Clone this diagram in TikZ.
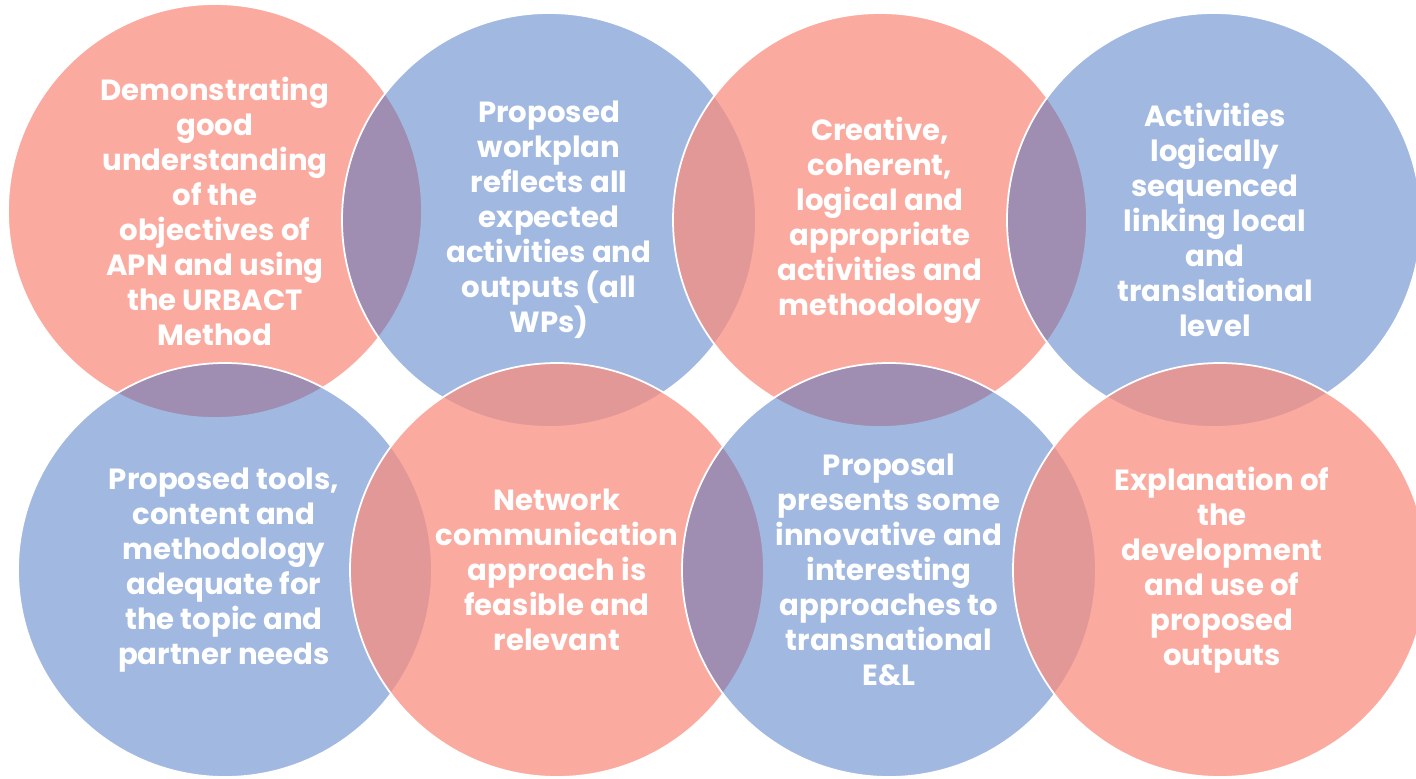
\documentclass[tikz,border=0pt]{standalone}
\usepackage{fontspec}
\setmainfont{Poppins}
\usepackage{tikz}
\definecolor{vennblue}{RGB}{68,114,196}
\definecolor{vennsalmon}{RGB}{250,142,128}
\tikzset{
  bluedisc/.style={fill=vennblue,fill opacity=0.5,draw=white,line width=0.5pt},
  salmondisc/.style={fill=vennsalmon,fill opacity=0.75,draw=white,line width=0.5pt},
  disctext/.style={text=white,align=center,inner sep=0pt,font=\bfseries\fontsize{8.3}{9.96}\selectfont}
}

\begin{document}
\begin{tikzpicture}
\clip (0,0) rectangle (14.16,7.78);
% top row
\filldraw[salmondisc] (2.15,5.67) circle (2.07);
\filldraw[bluedisc] (5.49,5.58) circle (2.07);
\filldraw[salmondisc] (8.80,5.58) circle (2.07);
\filldraw[bluedisc] (12.14,5.58) circle (2.07);
% bottom row
\filldraw[bluedisc] (2.25,2.08) circle (2.07);
\filldraw[salmondisc] (5.57,2.08) circle (2.07);
\filldraw[bluedisc] (8.89,2.08) circle (2.07);
\filldraw[salmondisc] (12.20,2.08) circle (2.07);

\node[disctext] (understanding) at (2.15,5.67) {Demonstrating\\good\\understanding\\of the\\objectives of\\APN and using\\the URBACT\\Method};
\node[disctext] (workplan) at (5.49,5.58) {Proposed\\workplan\\reflects all\\expected\\activities and\\outputs (all\\WPs)};
\node[disctext] (creative) at (8.80,5.58) {Creative,\\coherent,\\logical and\\appropriate\\activities and\\methodology};
\node[disctext] (sequenced) at (12.15,5.58) {Activities\\logically\\sequenced\\linking local\\and\\translational\\level};
\node[disctext] (tools) at (2.24,2.08) {Proposed tools,\\content and\\methodology\\adequate for\\the topic and\\partner needs};
\node[disctext] (communication) at (5.57,2.08) {Network\\communication\\approach is\\feasible and\\relevant};
\node[disctext] (innovative) at (8.89,2.08) {Proposal\\presents some\\innovative and\\interesting\\approaches to\\transnational\\E\&L};
\node[disctext] (outputs) at (12.22,2.08) {Explanation of\\the\\development\\and use of\\proposed\\outputs};
\end{tikzpicture}
\end{document}
